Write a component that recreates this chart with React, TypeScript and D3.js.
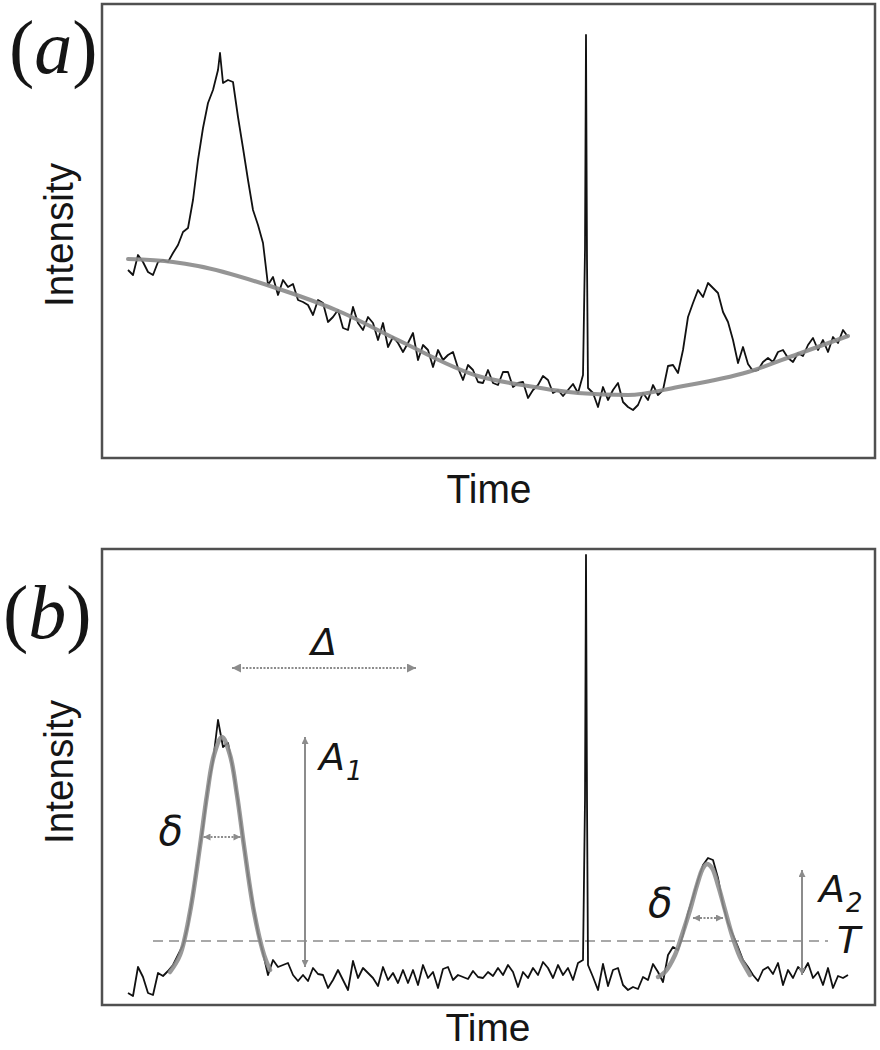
import React from 'react';
import * as d3 from 'd3';

// ---------- data (time index 0..144, arbitrary intensity counts) ----------
const TIME_DOMAIN = [0, 144];

// Panel (a): raw signal with drifting baseline
const TRACE_A = [
  188, 183, 203, 196, 186, 183, 196, 198, 196, 205,
  213, 226, 230, 258, 298, 330, 355, 368, 388, 375,
  378, 376, 341, 310, 278, 248, 233, 215, 173, 181,
  163, 178, 171, 174, 158, 156, 153, 143, 158, 155,
  136, 141, 148, 130, 128, 151, 135, 128, 141, 135,
  118, 135, 111, 121, 115, 106, 115, 125, 98, 113,
  108, 91, 108, 98, 103, 106, 90, 78, 93, 88,
  76, 75, 88, 75, 73, 86, 86, 71, 75, 76,
  60, 68, 73, 82, 78, 65, 68, 62, 68, 74,
  65, 83, 70, 65, 51, 71, 58, 68, 75, 56,
  51, 48, 53, 65, 58, 73, 63, 68, 92, 93,
  85, 108, 141, 155, 168, 161, 175, 170, 165, 146,
  136, 118, 95, 111, 94, 87, 88, 96, 100, 96,
  106, 108, 100, 96, 105, 102, 113, 120, 108, 118,
  106, 121, 115, 128, 121,
];
const EXTRA_TIME_A = [18.4, 91.4, 91.6, 91.8];
const EXTRA_VALUE_A = [405, 208, 423, 198];
const BASE_TIME_A = [0, 9, 14, 29, 43, 54, 70, 80, 90, 100, 110, 124, 134, 144];
const BASE_VALUE_A = [199, 196, 192, 171, 145, 118, 82, 72, 65, 63, 71, 86, 104, 122];

// Panel (b): baseline-corrected signal with peak fits
const TRACE_B = [
  12, 9, 38, 28, 12, 10, 32, 29, 34, 40,
  50, 60, 80, 112, 146, 178, 218, 244, 285, 258,
  262, 236, 204, 166, 130, 100, 72, 52, 30, 45,
  38, 40, 42, 30, 24, 30, 24, 37, 31, 30,
  17, 25, 35, 25, 15, 44, 27, 37, 32, 27,
  19, 38, 25, 32, 22, 35, 22, 35, 20, 40,
  27, 33, 17, 36, 38, 25, 30, 28, 26, 34,
  28, 27, 33, 29, 37, 30, 40, 33, 18, 33,
  27, 37, 30, 43, 37, 27, 40, 30, 37, 25,
  42, 45, 40, 28, 15, 41, 19, 35, 37, 20,
  15, 18, 16, 28, 25, 41, 33, 23, 50, 58,
  55, 70, 92, 108, 125, 140, 147, 145, 127, 100,
  82, 70, 58, 45, 38, 30, 24, 35, 38, 31,
  42, 20, 35, 27, 38, 33, 42, 27, 33, 20,
  37, 17, 29, 27, 30,
];
const EXTRA_TIME_B = [91.4, 91.6, 91.8];
const EXTRA_VALUE_B = [205, 450, 205];

const FIT1_TIME = [8.4, 10.4, 12.4, 14.4, 15.8, 17.2, 18.8, 20.4, 21.8, 23.2, 25.2, 27.2, 28.4];
const FIT1_VALUE = [33, 50, 93, 159, 210, 250, 268, 250, 210, 159, 93, 50, 35];
const FIT2_TIME = [106, 107.4, 109.4, 110.8, 112.4, 113.8, 115, 115.8, 116.8, 118, 119.4, 120.8, 122.4, 124.4];
const FIT2_VALUE = [28, 33, 50, 70, 95, 120, 137, 141, 137, 120, 95, 70, 48, 30];

const THRESHOLD = 64;
const THRESHOLD_SPAN = [5, 140];
const DELTA_SPAN = [20.8, 57.6];
const DELTA_LEVEL = 337;
const A1_TIME = 35.4;
const A1_RANGE = [38, 268];
const A2_TIME = 134.8;
const A2_RANGE = [30, 135];
const DELTA1_SPAN = [15.1, 22.5];
const DELTA1_LEVEL = 168;
const DELTA2_SPAN = [113, 119];
const DELTA2_LEVEL = 87;

const INTENSITY_DOMAIN_A = [0, 454];
const INTENSITY_DOMAIN_B = [0, 456];

// ---------- helpers ----------
type Pt = [number, number];
function merge(values: number[], extraT: number[], extraV: number[]): Pt[] {
  const pts: Pt[] = values.map((v, i) => [i, v] as Pt);
  extraT.forEach((t, i) => pts.push([t, extraV[i]]));
  pts.sort((a, b) => a[0] - b[0]);
  return pts;
}
function zip(t: number[], v: number[]): Pt[] {
  return t.map((d, i) => [d, v[i]] as Pt);
}

const FRAME_A = { left: 102, top: 4, right: 875, bottom: 458 };
const FRAME_B = { left: 102, top: 549, right: 875, bottom: 1005 };

const x = d3.scaleLinear().domain(TIME_DOMAIN).range([128, 848]);
const yA = d3.scaleLinear().domain(INTENSITY_DOMAIN_A).range([FRAME_A.bottom, FRAME_A.top]);
const yB = d3.scaleLinear().domain(INTENSITY_DOMAIN_B).range([FRAME_B.bottom, FRAME_B.top]);

const GRAY = '#8c8c8c';
const TEXT = '#151515';
const SANS = "'Liberation Sans', Arial, sans-serif";
const GREEK = "'DejaVu Sans', Verdana, sans-serif";
const SERIF = "'Liberation Serif', 'Times New Roman', serif";

export default function App() {
  const lineA = d3.line<Pt>().x(d => x(d[0])).y(d => yA(d[1]));
  const lineB = d3.line<Pt>().x(d => x(d[0])).y(d => yB(d[1]));
  const smoothA = d3.line<Pt>().x(d => x(d[0])).y(d => yA(d[1])).curve(d3.curveMonotoneX);
  const smoothB = d3.line<Pt>().x(d => x(d[0])).y(d => yB(d[1])).curve(d3.curveCatmullRom.alpha(0.5));

  const traceA = merge(TRACE_A, EXTRA_TIME_A, EXTRA_VALUE_A);
  const traceB = merge(TRACE_B, EXTRA_TIME_B, EXTRA_VALUE_B);
  const baseA = zip(BASE_TIME_A, BASE_VALUE_A);
  const fit1 = zip(FIT1_TIME, FIT1_VALUE);
  const fit2 = zip(FIT2_TIME, FIT2_VALUE);

  const frame = (f: typeof FRAME_A) => (
    <rect x={f.left} y={f.top} width={f.right - f.left} height={f.bottom - f.top}
      fill="none" stroke="#505050" strokeWidth={2.5} />
  );

  return (
    <svg width={880} height={1050} style={{ position: 'absolute', left: 0, top: 0, display: 'block', background: '#fff' }}>
      <defs>
        <marker id="headSmall" viewBox="0 0 10 10" refX={10} refY={5} markerWidth={9} markerHeight={7}
          markerUnits="userSpaceOnUse" orient="auto-start-reverse">
          <path d="M0,0 L10,5 L0,10 z" fill={GRAY} />
        </marker>
        <marker id="headLarge" viewBox="0 0 10 10" refX={10} refY={5} markerWidth={13} markerHeight={9}
          markerUnits="userSpaceOnUse" orient="auto-start-reverse">
          <path d="M0,0 L10,5 L0,10 z" fill={GRAY} />
        </marker>
      </defs>

      {/* ---------- panel (a) ---------- */}
      {frame(FRAME_A)}
      <path d={lineA(traceA) || ''} fill="none" stroke="#111" strokeWidth={1.8} strokeLinejoin="round" />
      <path d={smoothA(baseA) || ''} fill="none" stroke={GRAY} strokeWidth={4} strokeOpacity={0.92} strokeLinecap="round" />
      <text x={9} y={73} fontFamily={SERIF} fontSize={76} fill={TEXT}>
        (<tspan fontStyle="italic">a</tspan>)
      </text>
      <text transform={`translate(73,235) rotate(-90)`} textAnchor="middle" fontFamily={SANS} fontSize={40}
        textLength={144} lengthAdjust="spacingAndGlyphs" fill={TEXT}>Intensity</text>
      <text x={489} y={503} textAnchor="middle" fontFamily={SANS} fontSize={40}
        textLength={85} lengthAdjust="spacingAndGlyphs" fill={TEXT}>Time</text>

      {/* ---------- panel (b) ---------- */}
      {frame(FRAME_B)}
      <line x1={x(THRESHOLD_SPAN[0])} x2={x(THRESHOLD_SPAN[1])} y1={yB(THRESHOLD)} y2={yB(THRESHOLD)}
        stroke={GRAY} strokeWidth={1.6} strokeDasharray="10,6" />
      <path d={lineB(traceB) || ''} fill="none" stroke="#111" strokeWidth={1.8} strokeLinejoin="round" />
      <path d={smoothB(fit1) || ''} fill="none" stroke={GRAY} strokeWidth={4.5} strokeOpacity={0.88} strokeLinecap="round" />
      <path d={smoothB(fit2) || ''} fill="none" stroke={GRAY} strokeWidth={4.5} strokeOpacity={0.88} strokeLinecap="round" />

      {/* Δ spacing arrow */}
      <line x1={x(DELTA_SPAN[0])} x2={x(DELTA_SPAN[1])} y1={yB(DELTA_LEVEL)} y2={yB(DELTA_LEVEL)}
        stroke={GRAY} strokeWidth={2} strokeDasharray="2,1.5" markerStart="url(#headLarge)" markerEnd="url(#headLarge)" />
      <text x={(x(DELTA_SPAN[0]) + x(DELTA_SPAN[1])) / 2} y={yB(DELTA_LEVEL) - 13} textAnchor="middle"
        fontFamily={GREEK} fontStyle="italic" fontSize={38} fill={TEXT}>Δ</text>

      {/* A1 amplitude arrow */}
      <line x1={x(A1_TIME)} x2={x(A1_TIME)} y1={yB(A1_RANGE[0])} y2={yB(A1_RANGE[1])}
        stroke={GRAY} strokeWidth={2} markerStart="url(#headSmall)" markerEnd="url(#headSmall)" />
      <text x={x(A1_TIME) + 14} y={yB(A1_RANGE[1]) + 33} fontFamily={GREEK} fontStyle="italic" fontSize={38} fill={TEXT}>
        A<tspan fontSize={26} dx={1} dy={10}>1</tspan>
      </text>

      {/* A2 amplitude arrow */}
      <line x1={x(A2_TIME)} x2={x(A2_TIME)} y1={yB(A2_RANGE[0])} y2={yB(A2_RANGE[1])}
        stroke={GRAY} strokeWidth={2} markerStart="url(#headSmall)" markerEnd="url(#headSmall)" />
      <text x={x(A2_TIME) + 17} y={yB(A2_RANGE[1]) + 32} fontFamily={GREEK} fontStyle="italic" fontSize={38} fill={TEXT}>
        A<tspan fontSize={26} dx={1} dy={10}>2</tspan>
      </text>

      {/* T threshold label */}
      <text x={x(THRESHOLD_SPAN[1]) + 9} y={yB(THRESHOLD) + 12} fontFamily={GREEK} fontStyle="italic" fontSize={38} fill={TEXT}>T</text>

      {/* δ width arrows */}
      <line x1={x(DELTA1_SPAN[0])} x2={x(DELTA1_SPAN[1])} y1={yB(DELTA1_LEVEL)} y2={yB(DELTA1_LEVEL)}
        stroke={GRAY} strokeWidth={2} strokeDasharray="2,1.5" markerStart="url(#headSmall)" markerEnd="url(#headSmall)" />
      <text x={x(DELTA1_SPAN[0]) - 45} y={yB(DELTA1_LEVEL) + 8} fontFamily={GREEK} fontStyle="italic" fontSize={40} fill={TEXT}>δ</text>
      <line x1={x(DELTA2_SPAN[0])} x2={x(DELTA2_SPAN[1])} y1={yB(DELTA2_LEVEL)} y2={yB(DELTA2_LEVEL)}
        stroke={GRAY} strokeWidth={2} strokeDasharray="2,1.5" markerStart="url(#headSmall)" markerEnd="url(#headSmall)" />
      <text x={x(DELTA2_SPAN[0]) - 45} y={yB(DELTA2_LEVEL) - 1} fontFamily={GREEK} fontStyle="italic" fontSize={40} fill={TEXT}>δ</text>

      <text x={3} y={638} fontFamily={SERIF} fontSize={76} fill={TEXT}>
        (<tspan fontStyle="italic">b</tspan>)
      </text>
      <text transform={`translate(73,772) rotate(-90)`} textAnchor="middle" fontFamily={SANS} fontSize={40}
        textLength={144} lengthAdjust="spacingAndGlyphs" fill={TEXT}>Intensity</text>
      <text x={488} y={1041} textAnchor="middle" fontFamily={SANS} fontSize={38}
        textLength={85} lengthAdjust="spacingAndGlyphs" fill={TEXT}>Time</text>
    </svg>
  );
}
